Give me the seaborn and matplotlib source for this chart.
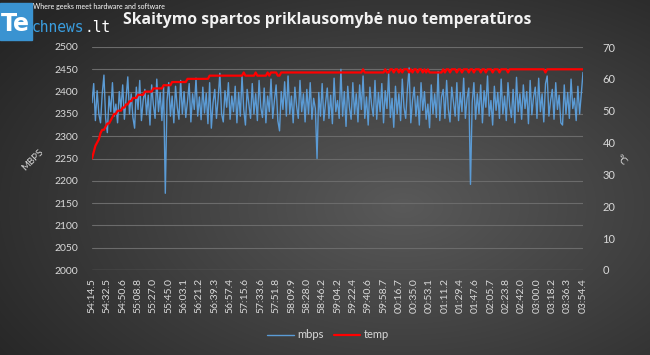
import numpy as np
import pandas as pd
import seaborn as sns
import matplotlib.pyplot as plt
from matplotlib.patches import Rectangle
from matplotlib.lines import Line2D

# x ašies žymės (kas 9-as matavimas)
time_labels = ["54:14.5", "54:32.5", "54:50.6", "55:08.8", "55:27.0", "55:45.0",
               "56:03.1", "56:21.2", "56:39.3", "56:57.4", "57:15.6", "57:33.6",
               "57:51.8", "58:09.9", "58:28.0", "58:46.2", "59:04.2", "59:22.4",
               "59:40.6", "59:58.7", "00:16.7", "00:35.0", "00:53.1", "01:11.2",
               "01:29.4", "01:47.6", "02:05.7", "02:23.8", "02:42.0", "03:00.0",
               "03:18.2", "03:36.3", "03:54.4"]

# skaitymo sparta, MBPS
mbps = [2375, 2418, 2335, 2402, 2350, 2330, 2395, 2437, 2340,
        2308, 2390, 2355, 2420, 2345, 2372, 2330, 2400, 2362,
        2415, 2338, 2385, 2433, 2350, 2395, 2342, 2318, 2410,
        2360, 2425, 2335, 2380, 2405, 2348, 2392, 2325, 2415,
        2370, 2340, 2428, 2355, 2398, 2335, 2410, 2172, 2380,
        2420, 2345, 2390, 2330, 2412, 2365, 2338, 2425, 2350,
        2400, 2342, 2378, 2418, 2332, 2395, 2360, 2430, 2345,
        2388, 2337, 2410, 2352, 2396, 2328, 2420, 2318, 2375,
        2405, 2340, 2385, 2441, 2350, 2332, 2402, 2365, 2420,
        2338, 2390, 2355, 2412, 2330, 2398, 2345, 2435, 2360,
        2325, 2405, 2372, 2340, 2418, 2350, 2395, 2335, 2425,
        2365, 2342, 2408, 2330, 2390, 2355, 2428, 2340, 2380,
        2415, 2335, 2312, 2400, 2360, 2422, 2345, 2435, 2350,
        2390, 2330, 2410, 2368, 2340, 2425, 2355, 2395, 2332,
        2405, 2350, 2420, 2338, 2385, 2362, 2250, 2398, 2345,
        2418, 2335, 2375, 2408, 2340, 2392, 2328, 2430, 2355,
        2380, 2340, 2450, 2345, 2400, 2322, 2412, 2365, 2338,
        2420, 2350, 2395, 2332, 2415, 2360, 2435, 2340, 2388,
        2325, 2410, 2370, 2345, 2425, 2338, 2398, 2355, 2418,
        2330, 2402, 2362, 2440, 2342, 2385, 2320, 2412, 2350,
        2395, 2335, 2428, 2365, 2340, 2405, 2453, 2330, 2380,
        2410, 2345, 2390, 2325, 2420, 2358, 2400, 2338, 2372,
        2319, 2415, 2350, 2395, 2342, 2445, 2335, 2388, 2405,
        2340, 2425, 2360, 2332, 2410, 2378, 2345, 2420, 2335,
        2398, 2355, 2430, 2340, 2385, 2408, 2192, 2375, 2420,
        2338, 2395, 2350, 2415, 2330, 2402, 2365, 2435, 2345,
        2380, 2325, 2412, 2358, 2398, 2340, 2428, 2350, 2390,
        2335, 2420, 2368, 2342, 2405, 2330, 2432, 2355, 2395,
        2338, 2415, 2362, 2400, 2328, 2425, 2348, 2388, 2410,
        2340, 2430, 2355, 2395, 2332, 2418, 2435, 2345, 2380,
        2405, 2338, 2420, 2360, 2392, 2330, 2325, 2415, 2350,
        2398, 2340, 2428, 2362, 2385, 2335, 2412, 2350, 2395,
        2443]

# temperatūra, °C
temp = [35, 37, 39, 40, 41, 43, 44, 44, 45,
        46, 46, 47, 48, 49, 49, 50, 50, 50,
        51, 51, 52, 52, 53, 53, 54, 54, 54,
        55, 55, 55, 55, 56, 56, 56, 56, 56,
        57, 57, 57, 57, 57, 57, 58, 58, 58,
        58, 58, 59, 59, 59, 59, 59, 59, 59,
        59, 59, 60, 60, 60, 60, 60, 60, 60,
        60, 60, 60, 60, 60, 60, 61, 61, 61,
        61, 61, 61, 61, 61, 61, 61, 61, 61,
        61, 61, 61, 61, 61, 61, 61, 61, 62,
        61, 61, 61, 61, 61, 61, 62, 61, 61,
        61, 61, 61, 61, 62, 61, 62, 62, 62,
        62, 61, 61, 62, 62, 62, 62, 62, 62,
        62, 62, 62, 62, 62, 62, 62, 62, 62,
        62, 62, 62, 62, 62, 62, 62, 62, 62,
        62, 62, 62, 62, 62, 62, 62, 62, 62,
        62, 62, 62, 62, 62, 62, 62, 62, 62,
        62, 62, 62, 62, 62, 62, 63, 62, 62,
        62, 62, 62, 62, 62, 62, 62, 62, 62,
        62, 63, 62, 62, 63, 63, 62, 63, 63,
        62, 63, 62, 63, 63, 63, 62, 63, 62,
        63, 63, 62, 63, 63, 62, 63, 62, 63,
        62, 62, 62, 62, 62, 62, 62, 62, 63,
        62, 63, 63, 62, 63, 63, 63, 62, 63,
        63, 62, 63, 63, 63, 62, 63, 63, 62,
        63, 63, 63, 62, 63, 63, 62, 63, 63,
        63, 62, 63, 63, 63, 62, 63, 63, 63,
        63, 62, 63, 63, 63, 63, 63, 63, 63,
        63, 63, 63, 63, 63, 63, 63, 63, 63,
        63, 63, 63, 63, 63, 62, 63, 63, 63,
        63, 63, 63, 63, 63, 63, 63, 63, 63,
        63, 63, 63, 63, 63, 63, 63, 63, 63,
        63]

df = pd.DataFrame({"n": np.arange(len(mbps)), "mbps": mbps, "temp": temp})

sns.set_theme(style="dark")
plt.rcParams['font.family'] = ['Lato', 'DejaVu Sans']
txt = "#d9d9d9"
grid = "#6b6b6b"
blue = "#5b9bd5"
red = "#ff0000"

fig = plt.figure(figsize=(6.5, 3.55), dpi=100)

# fonas - tamsus radialinis gradientas
bg = fig.add_axes([0, 0, 1, 1], zorder=-5)
yy, xx = np.mgrid[0:1:355j, 0:1:650j]
r = np.sqrt(((xx - 0.62) / 0.75) ** 2 + ((yy - 0.58) / 0.8) ** 2)
shade = np.clip(0.35 - 0.2 * r, 0.15, 0.35)
bg.imshow(np.dstack([shade, shade, shade]), aspect="auto", extent=[0, 1, 0, 1])
bg.axis("off")

ax1 = fig.add_axes([92 / 650, 1 - 270 / 355, 491 / 650, 223 / 355])
ax1.set_facecolor("none")
ax2 = ax1.twinx()

for y in np.arange(2050, 2501, 50):
    ax1.axhline(y, color=grid, lw=0.8, zorder=0)

sns.lineplot(data=df, x="n", y="mbps", ax=ax1, color=blue, lw=1.0)
sns.lineplot(data=df, x="n", y="temp", ax=ax2, color=red, lw=1.6)

ax1.set_xlim(0, len(mbps) - 1)
ax1.set_ylim(2000, 2500)
ax2.set_ylim(0, 70)
ax1.set_yticks(np.arange(2000, 2501, 50))
ax2.set_yticks(np.arange(0, 71, 10))
ax1.set_xticks(np.arange(0, len(mbps), 9))
ax1.set_xticklabels(time_labels, rotation=90, fontsize=7.5, color=txt)
ax1.tick_params(axis="y", labelsize=7.5, colors=txt, length=0, pad=10)
ax2.tick_params(axis="y", labelsize=8, colors=txt, length=0, pad=14)
ax1.tick_params(axis="x", length=0, pad=6)
ax1.set_xlabel("")
ax1.set_ylabel("")
ax2.set_ylabel("")
for a in (ax1, ax2):
    for s in a.spines.values():
        s.set_visible(False)
ax1.axhline(2000, color=grid, lw=1.0, zorder=0)

fig.text(33 / 650, 1 - 160 / 355, "MBPS", rotation=45, color=txt, fontsize=7,
         ha="center", va="center")
fig.text(621 / 650, 1 - 160 / 355, "°C", rotation=-45, color=txt, fontsize=7.5,
         ha="center", va="center")

fig.text(0.503, 1 - 20 / 355, "Skaitymo spartos priklausomybė nuo temperatūros",
         ha="center", va="center", fontsize=11.3, fontweight="bold",
         color="#f2f2f2", family=["Open Sans", "DejaVu Sans"])

# logotipas
fig.patches.append(Rectangle((0, 1 - 40 / 355), 32 / 650, 37 / 355,
                             transform=fig.transFigure, color="#3a93d1", zorder=3))
fig.text(1 / 650, 1 - 24 / 355, "Te", color="white", fontsize=17, fontweight="bold",
         va="center", ha="left", family="DejaVu Sans", zorder=4)
fig.text(32 / 650, 1 - 27 / 355, "chnews", color="#3a9ee0", fontsize=10.5,
         va="center", ha="left", family="DejaVu Sans Mono")
fig.text(84 / 650, 1 - 27 / 355, ".lt", color="white", fontsize=10.5,
         va="center", ha="left", family="DejaVu Sans Mono")
fig.text(33 / 650, 1 - 7 / 355, "Where geeks meet hardware and software", color="white",
         fontsize=5, va="center", ha="left")

handles = [Line2D([], [], color=blue, lw=1.0), Line2D([], [], color=red, lw=1.6)]
leg = fig.legend(handles, ["mbps", "temp"], loc="center", bbox_to_anchor=(0.505, 1 - 335 / 355),
                 ncol=2, frameon=False, fontsize=8, handlelength=2.4, handletextpad=0.3,
                 columnspacing=0.9)
for t in leg.get_texts():
    t.set_color(txt)

plt.savefig("out.png", dpi=100)
